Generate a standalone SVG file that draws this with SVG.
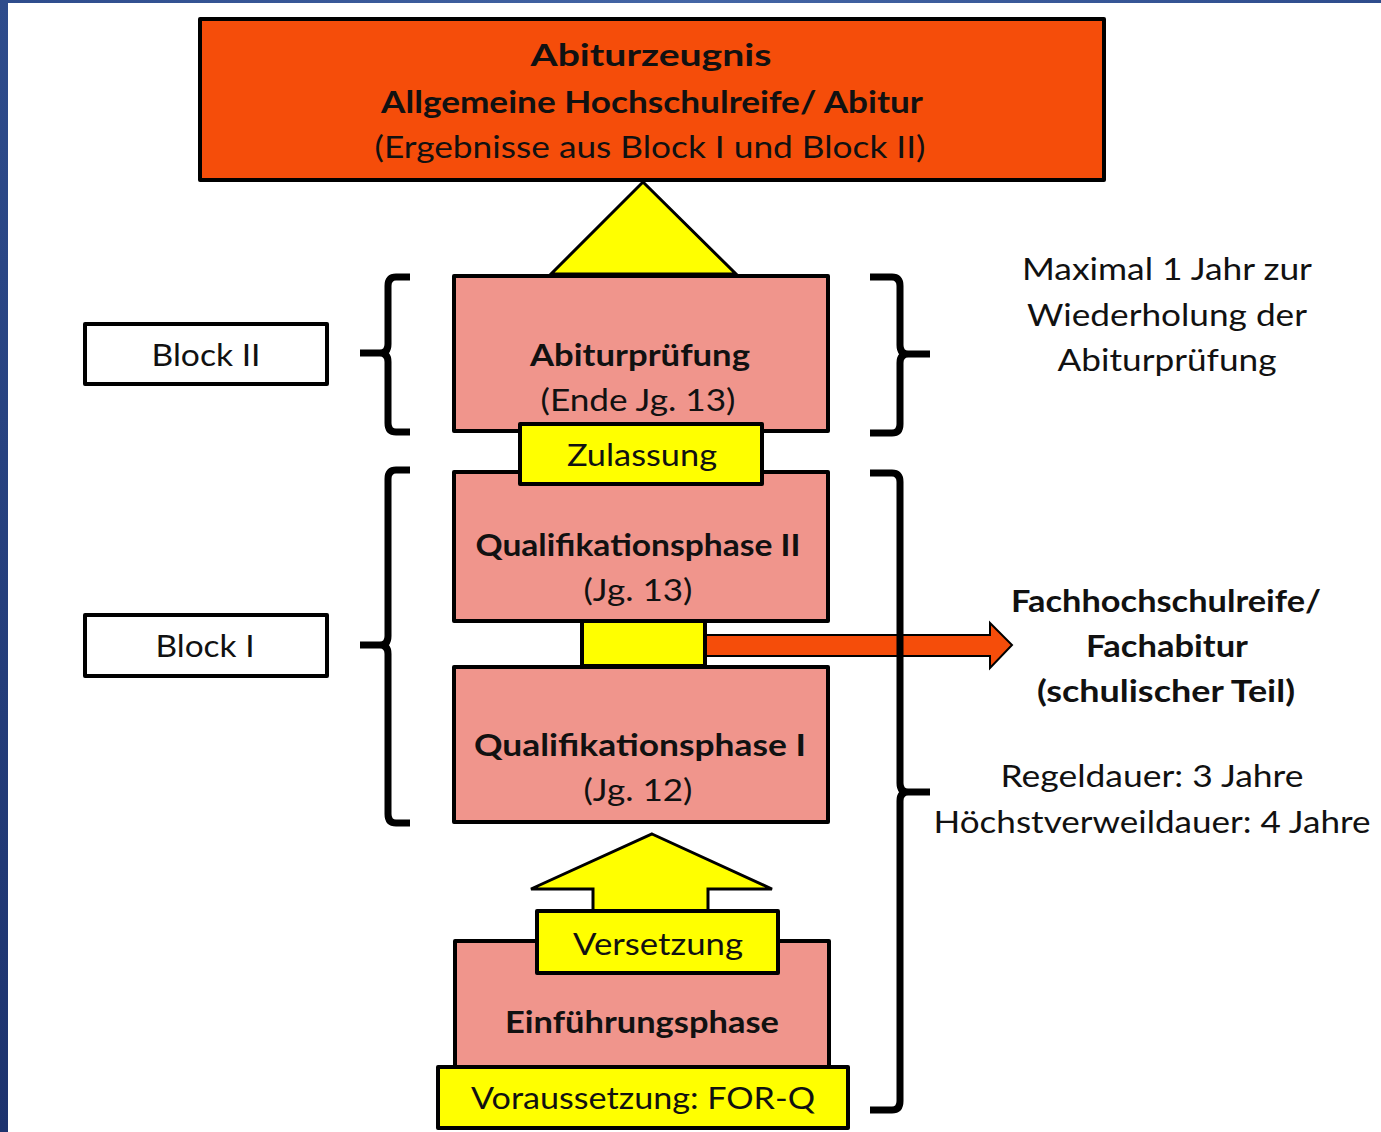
<svg xmlns="http://www.w3.org/2000/svg" width="1381" height="1132" viewBox="0 0 1381 1132">
<defs>
<linearGradient id="side" x1="0" y1="0" x2="0" y2="1">
<stop offset="0" stop-color="#2E4C8C"/>
<stop offset="1" stop-color="#1D336E"/>
</linearGradient>
<linearGradient id="topbar" x1="0" y1="0" x2="1" y2="0">
<stop offset="0" stop-color="#2E4C8C"/>
<stop offset="0.5" stop-color="#4466A6"/>
<stop offset="1" stop-color="#2E4C8C"/>
</linearGradient>
</defs>
<style>
text{font-family:Lato,"Open Sans","Liberation Sans",sans-serif;font-size:30px;fill:#111;text-anchor:middle}
.b{font-weight:bold}
.box{stroke:#000;stroke-width:4;stroke-linejoin:round}
.pink{fill:#F0958C}
.yel{fill:#FFFF00}
.org{fill:#F54D0A}
.wht{fill:#fff}
.brace{fill:none;stroke:#000;stroke-width:7;stroke-linejoin:round}
</style>
<rect width="1381" height="1132" fill="#fff"/>
<rect x="0" y="0" width="1381" height="3" fill="url(#topbar)"/>
<rect x="0" y="0" width="8" height="1132" fill="url(#side)"/>

<g id="connectors">
<polygon points="643,182 736,274 551,274" class="yel" stroke="#000" stroke-width="3" stroke-linejoin="miter"/>
<polygon points="652,834 772,889 708,889 708,915 593,915 593,889 531,889" class="yel" stroke="#000" stroke-width="3"/>
<polygon points="705,635 990,635 990,623 1012,645 990,668 990,656 705,656" class="org" stroke="#000" stroke-width="2"/>
<path class="brace" d="M410,277 H396 Q388,277 388,286 V344 Q388,353 380,353 H360 M380,353 Q388,353 388,362 V423 Q388,432 396,432 H410"/>
<path class="brace" d="M410,470 H396 Q388,470 388,479 V636 Q388,645 380,645 H360 M380,645 Q388,645 388,654 V814 Q388,823 396,823 H410"/>
<path class="brace" d="M870,277 H892 Q900,277 900,286 V345 Q900,354 908,354 H930 M908,354 Q900,354 900,363 V424 Q900,433 892,433 H870"/>
<path class="brace" d="M870,473 H892 Q900,473 900,482 V783 Q900,792 908,792 H930 M908,792 Q900,792 900,801 V1101 Q900,1110 892,1110 H870"/>
</g>

<g id="abiturzeugnis">
<rect x="200" y="19" width="904" height="161" class="box org"/>
<text x="651" y="66" class="b" font-size="34" textLength="241" lengthAdjust="spacingAndGlyphs">Abiturzeugnis</text>
<text x="652" y="113" class="b" textLength="542" lengthAdjust="spacingAndGlyphs">Allgemeine Hochschulreife/ Abitur</text>
<text x="650" y="158" textLength="551" lengthAdjust="spacingAndGlyphs">(Ergebnisse aus Block I und Block II)</text>
</g>

<g id="abiturpruefung">
<rect x="454" y="276" width="374" height="155" class="box pink"/>
<text x="640" y="366" class="b" textLength="220" lengthAdjust="spacingAndGlyphs">Abiturprüfung</text>
<text x="638" y="411" textLength="195" lengthAdjust="spacingAndGlyphs">(Ende Jg. 13)</text>
</g>

<g id="qphase2">
<rect x="454" y="472" width="374" height="149" class="box pink"/>
<text x="638" y="556" class="b" textLength="325" lengthAdjust="spacingAndGlyphs">Qualifikationsphase II</text>
<text x="638" y="601" textLength="109" lengthAdjust="spacingAndGlyphs">(Jg. 13)</text>
</g>

<g id="zulassung">
<rect x="520" y="424" width="242" height="60" class="box yel"/>
<text x="642" y="466" textLength="150" lengthAdjust="spacingAndGlyphs">Zulassung</text>
</g>

<g id="fhr-box">
<rect x="582" y="621" width="123" height="45" class="box yel" stroke-width="3"/>
</g>

<g id="qphase1">
<rect x="454" y="667" width="374" height="155" class="box pink"/>
<text x="640" y="756" class="b" textLength="332" lengthAdjust="spacingAndGlyphs">Qualifikationsphase  I</text>
<text x="638" y="801" textLength="109" lengthAdjust="spacingAndGlyphs">(Jg. 12)</text>
</g>

<g id="einfuehrungsphase">
<rect x="455" y="941" width="374" height="127" class="box pink"/>
<text x="642" y="1033" class="b" textLength="274" lengthAdjust="spacingAndGlyphs">Einführungsphase</text>
</g>

<g id="versetzung">
<rect x="537" y="911" width="241" height="62" class="box yel"/>
<text x="658" y="955" textLength="170" lengthAdjust="spacingAndGlyphs">Versetzung</text>
</g>

<g id="voraussetzung">
<rect x="438" y="1067" width="410" height="61" class="box yel"/>
<text x="643" y="1109" textLength="344" lengthAdjust="spacingAndGlyphs">Voraussetzung: FOR-Q</text>
</g>

<g id="block2">
<rect x="85" y="324" width="242" height="60" class="box wht" stroke-width="3"/>
<text x="206" y="366" textLength="109" lengthAdjust="spacingAndGlyphs">Block II</text>
</g>

<g id="block1">
<rect x="85" y="615" width="242" height="61" class="box wht" stroke-width="3"/>
<text x="205" y="657" textLength="99" lengthAdjust="spacingAndGlyphs">Block I</text>
</g>

<g id="wiederholung">
<text x="1167" y="280" textLength="290" lengthAdjust="spacingAndGlyphs">Maximal  1 Jahr zur</text>
<text x="1167" y="326" textLength="280" lengthAdjust="spacingAndGlyphs">Wiederholung der</text>
<text x="1167" y="371" textLength="219" lengthAdjust="spacingAndGlyphs">Abiturprüfung</text>
</g>

<g id="fachabitur">
<text x="1166" y="612" class="b" textLength="310" lengthAdjust="spacingAndGlyphs">Fachhochschulreife/</text>
<text x="1167" y="657" class="b" textLength="162" lengthAdjust="spacingAndGlyphs">Fachabitur</text>
<text x="1166" y="702" class="b" textLength="258" lengthAdjust="spacingAndGlyphs">(schulischer  Teil)</text>
</g>

<g id="dauer">
<text x="1152" y="787" textLength="303" lengthAdjust="spacingAndGlyphs">Regeldauer: 3 Jahre</text>
<text x="1152" y="833" textLength="437" lengthAdjust="spacingAndGlyphs">Höchstverweildauer: 4 Jahre</text>
</g>
</svg>
